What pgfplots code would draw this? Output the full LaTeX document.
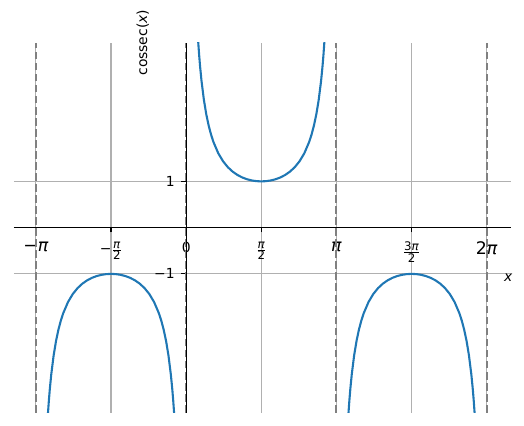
\documentclass[border=0pt]{standalone}
\usepackage{fontspec}
\setmainfont{DejaVu Sans}
\usepackage{pgfplots}
\pgfplotsset{compat=1.18}
\definecolor{mplblue}{HTML}{1F77B4}
\definecolor{gridgray}{HTML}{B0B0B0}
\definecolor{dashgray}{HTML}{808080}
\newcommand{\fr}[1]{$\frac{\mbox{\fontsize{8.5}{9}\selectfont #1}}{\mbox{\fontsize{8.5}{9}\selectfont 2}}$}
\newcommand{\bg}[1]{{\fontsize{12.5}{14}\selectfont #1}}
\begin{document}
\begin{tikzpicture}
\path[use as bounding box] (-10.08pt,-9.6pt) rectangle (367.2pt,297.1pt);
\begin{axis}[
  scale only axis,
  width=357.6pt, height=266.4pt,
  xmin=-3.60, xmax=6.785, ymin=-4, ymax=4,
  axis lines=middle,
  axis line style={-, black, line width=0.8pt},
  hide obscured x ticks=false,
  hide obscured y ticks=false,
  xtick={-3.14159,-1.5708,0,1.5708,3.14159,4.71239,6.28319},
  xticklabels={\bg{−\textit{π}}, −\fr{\textit{π}}, 0, \fr{\textit{π}}, \bg{\textit{π}}, \fr{3\textit{π}}, \bg{2\textit{π}}},
  ytick={-1,1},
  yticklabels={−1,1},
  tick align=center,
  major tick length=3.5pt,
  xtick style={black, line width=0.8pt, yshift=-1.75pt},
  ytick style={black, line width=0.8pt, xshift=-1.75pt},
  grid=major,
  major grid style={gridgray, line width=0.8pt, xshift=0pt, yshift=0pt},
  clip mode=individual,
  every tick label/.append style={font=\fontsize{10}{12}\selectfont},
  xticklabel style={yshift=-5pt},
  yticklabel style={xshift=-3pt},
]
% asymptotes
\addplot[dashgray, line width=1.5pt, dash pattern=on 5.55pt off 2.4pt] coordinates {(-3.14159,-4) (-3.14159,4)};
\addplot[dashgray, line width=1.5pt, dash pattern=on 5.55pt off 2.4pt] coordinates {(0,-4) (0,4)};
\addplot[dashgray, line width=1.5pt, dash pattern=on 5.55pt off 2.4pt] coordinates {(3.14159,-4) (3.14159,4)};
\addplot[dashgray, line width=1.5pt, dash pattern=on 5.55pt off 2.4pt] coordinates {(6.28319,-4) (6.28319,4)};
% branch (-pi, 0)
\addplot[mplblue, line width=1.5pt] coordinates {
(-2.9108,-4.3715) (-2.8908,-4.0294) (-2.8708,-3.7383) (-2.8508,-3.4878) (-2.8208,-3.1714)
(-2.7708,-2.7597) (-2.7208,-2.4481) (-2.6708,-2.2046) (-2.6208,-2.0098) (-2.5708,-1.8508)
(-2.4708,-1.6087) (-2.3708,-1.4353) (-2.2708,-1.3075) (-2.1708,-1.2116) (-2.0708,-1.1395)
(-1.9708,-1.0857) (-1.8708,-1.0468) (-1.7708,-1.0203) (-1.6708,-1.0050) (-1.5708,-1.0000)
(-1.4708,-1.0050) (-1.3708,-1.0203) (-1.2708,-1.0468) (-1.1708,-1.0857) (-1.0708,-1.1395)
(-0.9708,-1.2116) (-0.8708,-1.3075) (-0.7708,-1.4353) (-0.6708,-1.6087) (-0.5708,-1.8508)
(-0.5208,-2.0098) (-0.4708,-2.2046) (-0.4208,-2.4481) (-0.3708,-2.7597) (-0.3208,-3.1714)
(-0.2908,-3.4878) (-0.2708,-3.7383) (-0.2508,-4.0294) (-0.2308,-4.3715)
};
% branch (0, pi)
\addplot[mplblue, line width=1.5pt] coordinates {
(0.2308,4.3715) (0.2508,4.0294) (0.2708,3.7383) (0.2908,3.4878) (0.3208,3.1714)
(0.3708,2.7597) (0.4208,2.4481) (0.4708,2.2046) (0.5208,2.0098) (0.5708,1.8508)
(0.6708,1.6087) (0.7708,1.4353) (0.8708,1.3075) (0.9708,1.2116) (1.0708,1.1395)
(1.1708,1.0857) (1.2708,1.0468) (1.3708,1.0203) (1.4708,1.0050) (1.5708,1.0000)
(1.6708,1.0050) (1.7708,1.0203) (1.8708,1.0468) (1.9708,1.0857) (2.0708,1.1395)
(2.1708,1.2116) (2.2708,1.3075) (2.3708,1.4353) (2.4708,1.6087) (2.5708,1.8508)
(2.6208,2.0098) (2.6708,2.2046) (2.7208,2.4481) (2.7708,2.7597) (2.8208,3.1714)
(2.8508,3.4878) (2.8708,3.7383) (2.8908,4.0294) (2.9108,4.3715)
};
% branch (pi, 2pi)
\addplot[mplblue, line width=1.5pt] coordinates {
(3.3724,-4.3715) (3.3924,-4.0294) (3.4124,-3.7383) (3.4324,-3.4878) (3.4624,-3.1714)
(3.5124,-2.7597) (3.5624,-2.4481) (3.6124,-2.2046) (3.6624,-2.0098) (3.7124,-1.8508)
(3.8124,-1.6087) (3.9124,-1.4353) (4.0124,-1.3075) (4.1124,-1.2116) (4.2124,-1.1395)
(4.3124,-1.0857) (4.4124,-1.0468) (4.5124,-1.0203) (4.6124,-1.0050) (4.7124,-1.0000)
(4.8124,-1.0050) (4.9124,-1.0203) (5.0124,-1.0468) (5.1124,-1.0857) (5.2124,-1.1395)
(5.3124,-1.2116) (5.4124,-1.3075) (5.5124,-1.4353) (5.6124,-1.6087) (5.7124,-1.8508)
(5.7624,-2.0098) (5.8124,-2.2046) (5.8624,-2.4481) (5.9124,-2.7597) (5.9624,-3.1714)
(5.9924,-3.4878) (6.0124,-3.7383) (6.0324,-4.0294) (6.0524,-4.3715)
};
% spines on top
\addplot[black, line width=0.8pt] coordinates {(0,-4) (0,4)};
\addplot[black, line width=0.8pt] coordinates {(-3.60,0) (6.785,0)};
\node[rotate=90, anchor=south, inner sep=0pt] at ([xshift=-26.6pt]axis cs:0,4) {cossec(\textit{x})};
\node[anchor=center, inner sep=0pt] at ([xshift=-1.7pt, yshift=-35.8pt]axis cs:6.785,0) {\textit{x}};
\end{axis}
\end{tikzpicture}
\end{document}
